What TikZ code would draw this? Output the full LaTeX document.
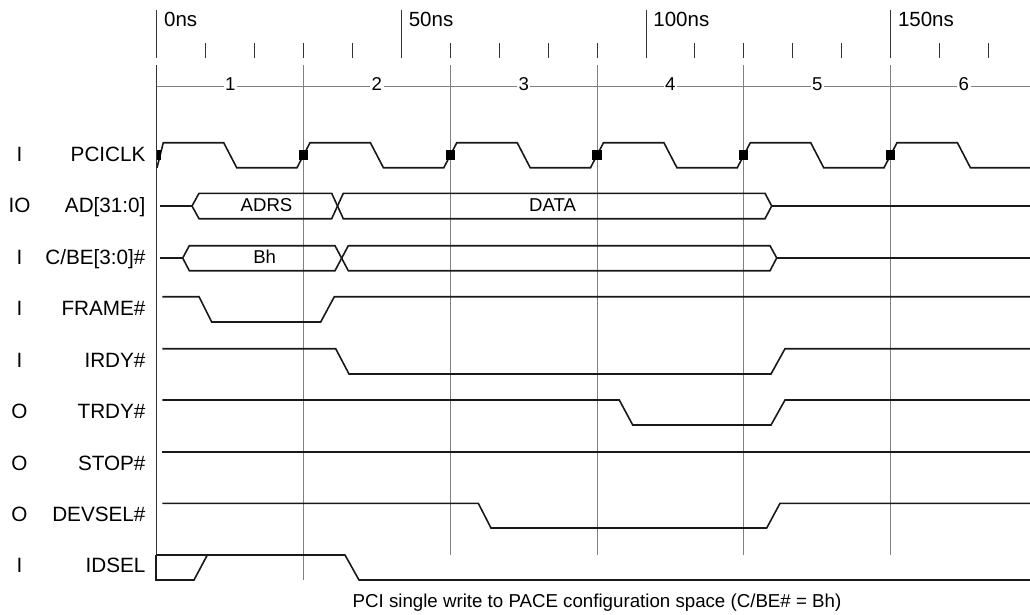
\documentclass[tikz,border=0pt]{standalone}
\usepackage{fontspec}
\setmainfont{Liberation Sans}
\begin{document}
\begin{tikzpicture}[x=1pt,y=-1pt,
  sig/.style={line width=1.6pt,draw=black!90,line join=miter},
  grid/.style={line width=1pt,draw=black!50},
  axis/.style={line width=1pt,draw=black!80},
  namelbl/.style={anchor=base east,inner sep=0pt,font=\fontsize{20.7}{24}\selectfont},
  dirlbl/.style={anchor=base,inner sep=0pt,font=\fontsize{20.7}{24}\selectfont},
  timelbl/.style={anchor=base west,inner sep=0pt,font=\fontsize{20.5}{24}\selectfont},
  cyclbl/.style={anchor=base,fill=white,inner xsep=1.5pt,inner ysep=1pt,font=\fontsize{18.6}{22}\selectfont},
  buslbl/.style={anchor=base,inner sep=0pt,font=\fontsize{18.6}{22}\selectfont},
  clkmark/.style={fill=black,inner sep=0pt,minimum size=9.3pt,draw=none}]
\useasboundingbox (0,0) rectangle (1030,614);
% time axis
\foreach \k in {1,2,3,4,6,7,8,9,11,12,13,14,16,17}{
  \draw[axis] ({156.8+48.92*\k},43) -- ({156.8+48.92*\k},58);
}
\foreach \k/\t in {0/0ns,5/50ns,10/100ns,15/150ns}{
  \draw[axis] ({156.8+48.92*\k},10) -- ({156.8+48.92*\k},58);
  \node[timelbl] (t\k) at ({164+48.92*\k},26.7) {\t};
}
% cycle grid
\draw[axis] (156.8,65) -- (156.8,580);
\draw[grid] (303.55,65) -- (303.55,580);
\foreach \x in {450.3,597.05,743.8,890.55}{
  \draw[grid] (\x,65) -- (\x,555);
}
\draw[grid] (156.8,86) -- (1030,86);
\foreach \n/\x in {1/230.2,2/376.9,3/523.7,4/670.4,5/817.2,6/963.9}{
  \node[cyclbl] (c\n) at (\x,90.7) {\n};
}
% labels
\node[dirlbl] (d1) at (19.5,161.5) {I};
\node[namelbl] (n1) at (145.7,161.5) {PCICLK};
\node[dirlbl] (d2) at (19.5,212.4) {IO};
\node[namelbl] (n2) at (145.7,212.4) {AD[31:0]};
\node[dirlbl] (d3) at (19.5,264) {I};
\node[namelbl] (n3) at (145.7,264) {C/BE[3:0]\#};
\node[dirlbl] (d4) at (19.5,315.3) {I};
\node[namelbl] (n4) at (145.7,315.3) {FRAME\#};
\node[dirlbl] (d5) at (19.5,367.3) {I};
\node[namelbl] (n5) at (145.7,367.3) {IRDY\#};
\node[dirlbl] (d6) at (19.5,418.5) {O};
\node[namelbl] (n6) at (145.7,418.5) {TRDY\#};
\node[dirlbl] (d7) at (19.5,470) {O};
\node[namelbl] (n7) at (145.7,470) {STOP\#};
\node[dirlbl] (d8) at (19.5,521.3) {O};
\node[namelbl] (n8) at (145.7,521.3) {DEVSEL\#};
\node[dirlbl] (d9) at (19.5,572.7) {I};
\node[namelbl] (n9) at (145.7,572.7) {IDSEL};
% PCICLK
\draw[sig] (157,167.7) -- (163.3,142.7) -- (223.7,142.7) -- (236.7,167.7) -- (297,167.7) -- (310,142.7) -- (370.4,142.7) -- (383.4,167.7) -- (443.8,167.7) -- (456.8,142.7) -- (517.2,142.7) -- (530.2,167.7) -- (590.5,167.7) -- (603.5,142.7) -- (663.9,142.7) -- (676.9,167.7) -- (737.3,167.7) -- (750.3,142.7) -- (810.7,142.7) -- (823.7,167.7) -- (884,167.7) -- (897,142.7) -- (957.4,142.7) -- (970.4,167.7) -- (1030,167.7);
\fill[black] (156.8,150.4) rectangle (161.2,159.6);
\foreach \i/\x in {1/303.55,2/450.3,3/597.05,4/743.8,5/890.55}{
  \node[clkmark] (m\i) at (\x,155) {};
}
% AD[31:0]
\draw[sig] (160,206) -- (192,206) -- (199,193.3) -- (331.7,193.3) -- (343.3,218.7) -- (765,218.7) -- (771.7,206) -- (1030,206);
\draw[sig] (192,206) -- (199,218.7) -- (331.7,218.7) -- (343.3,193.3) -- (765,193.3) -- (771.7,206);
\node[buslbl] (adrs) at (266.5,211.7) {ADRS};
\node[buslbl] (data) at (552.5,211.7) {DATA};
% C/BE
\draw[sig] (160,258) -- (182.7,258) -- (189.3,245.7) -- (335,245.7) -- (348.3,270.7) -- (770,270.7) -- (776.7,258) -- (1030,258);
\draw[sig] (182.7,258) -- (189.3,270.7) -- (335,270.7) -- (348.3,245.7) -- (770,245.7) -- (776.7,258);
\node[buslbl] (bh) at (264.7,263.3) {Bh};
% FRAME#
\draw[sig] (162.3,296.7) -- (199,296.7) -- (211.7,322) -- (320.7,322) -- (334.3,296.7) -- (1030,296.7);
% IRDY#
\draw[sig] (162.3,348.7) -- (335.7,348.7) -- (349,374) -- (771,374) -- (785,348.7) -- (1030,348.7);
% TRDY#
\draw[sig] (162.3,400) -- (619.3,400) -- (632.7,425) -- (771,425) -- (785,400) -- (1030,400);
% STOP#
\draw[sig] (162.3,451.7) -- (1030,451.7);
% DEVSEL#
\draw[sig] (162.3,503.3) -- (478.3,503.3) -- (491,528) -- (766.7,528) -- (780,503.3) -- (1030,503.3);
% IDSEL
\draw[sig] (156,555) -- (345,555) -- (359,580) -- (1030,580);
\draw[sig] (156,555) -- (156,580) -- (194,580) -- (207.3,555);
% caption
\node[anchor=base,inner sep=0pt,font=\fontsize{18.7}{22}\selectfont] (cap) at (597,607) {PCI single write to PACE configuration space (C/BE\# = Bh)};
\end{tikzpicture}
\end{document}
